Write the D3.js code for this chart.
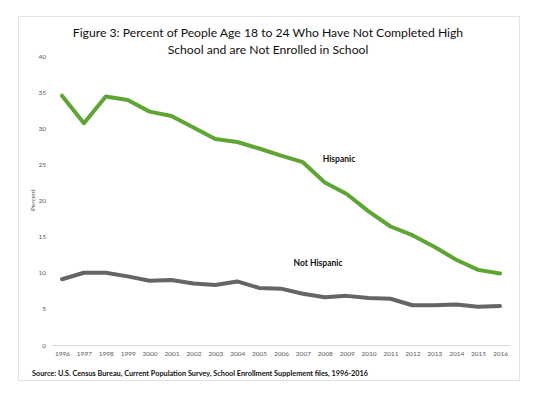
<!DOCTYPE html>
<html>
<head>
<meta charset="utf-8">
<script src="https://cdn.jsdelivr.net/npm/d3@7"></script>
<style>
  body { margin: 0; background: #fff; }
</style>
</head>
<body>
<div id="chart-container"></div>
<script>
const years = [1996, 1997, 1998, 1999, 2000, 2001, 2002, 2003, 2004, 2005, 2006,
    2007, 2008, 2009, 2010, 2011, 2012, 2013, 2014, 2015, 2016];
const hispanic = [34.5, 30.7, 34.4, 33.9, 32.3, 31.7, 30.1, 28.5, 28.1, 27.2, 26.2,
    25.3, 22.5, 20.9, 18.5, 16.4, 15.2, 13.6, 11.8, 10.4, 9.9];
const notHispanic = [9.1, 10.0, 10.0, 9.5, 8.9, 9.0, 8.5, 8.3, 8.8, 7.9, 7.8,
    7.1, 6.6, 6.8, 6.5, 6.4, 5.5, 5.5, 5.6, 5.3, 5.4];
const yTicks = [0, 5, 10, 15, 20, 25, 30, 35, 40];
const titleLines = ["Figure 3: Percent of People Age 18 to 24 Who Have Not Completed High",
    "School and are Not Enrolled in School"];
const sourceText = "Source: U.S. Census Bureau, Current Population Survey, School Enrollment Supplement files, 1996-2016";

const width = 536;
const height = 394;

const svg = d3.select("#chart-container")
    .append("svg")
    .attr("width", width)
    .attr("height", height);

// Outer frame
svg.append("rect")
    .attr("x", 18.5).attr("y", 16.5)
    .attr("width", 501).attr("height", 364)
    .attr("fill", "#fff")
    .attr("stroke", "#e3e3e3");

// Title
svg.append("g").selectAll("text")
    .data(titleLines)
    .enter()
    .append("text")
    .attr("x", 268)
    .attr("y", (d, i) => 37 + i * 17)
    .attr("text-anchor", "middle")
    .style("font-family", "Lato, 'Open Sans', sans-serif")
    .style("font-size", "12.2px")
    .attr("fill", "#111")
    .text((d) => d);

// Scales
const x = d3.scalePoint()
    .domain(years)
    .range([62, 500]);

const y = d3.scaleLinear()
    .domain([0, 40])
    .range([345, 56]);

// y axis labels (no axis line)
const yAxis = svg.append("g")
    .attr("transform", "translate(46,0)")
    .call(d3.axisLeft(y).tickValues(yTicks).tickSize(0).tickPadding(0));
yAxis.select(".domain").remove();
yAxis.selectAll("text")
    .style("font-family", "Lato, 'Open Sans', sans-serif")
    .style("font-size", "6.5px")
    .attr("fill", "#595959");

// x axis
const xAxis = svg.append("g")
    .attr("transform", "translate(0,345)")
    .call(d3.axisBottom(x).tickSize(0).tickPadding(6));
xAxis.select(".domain")
    .attr("d", "M52,0.5H510")
    .attr("stroke", "#d9d9d9");
xAxis.selectAll("text")
    .style("font-family", "Lato, 'Open Sans', sans-serif")
    .style("font-size", "6.5px")
    .attr("fill", "#595959");

// y axis title
svg.append("text")
    .attr("transform", "translate(35,200) rotate(-90)")
    .attr("text-anchor", "middle")
    .style("font-family", "Lato, 'Open Sans', sans-serif")
    .style("font-size", "6.5px")
    .attr("fill", "#595959")
    .text("Percent");

// Lines
const line = d3.line()
    .x((d, i) => x(years[i]))
    .y((d) => y(d));

svg.append("path")
    .datum(notHispanic)
    .attr("fill", "none")
    .attr("stroke", "#686466")
    .attr("stroke-width", 4)
    .attr("stroke-linejoin", "round")
    .attr("stroke-linecap", "round")
    .attr("d", line);

svg.append("path")
    .datum(hispanic)
    .attr("fill", "none")
    .attr("stroke", "#5ea534")
    .attr("stroke-width", 4)
    .attr("stroke-linejoin", "round")
    .attr("stroke-linecap", "round")
    .attr("d", line);

// Series labels
svg.append("text")
    .attr("x", 339).attr("y", 162)
    .attr("text-anchor", "middle")
    .style("font-family", "Lato, 'Open Sans', sans-serif")
    .style("font-size", "8.5px")
    .style("font-weight", "bold")
    .attr("fill", "#111")
    .text("Hispanic");

svg.append("text")
    .attr("x", 318).attr("y", 266)
    .attr("text-anchor", "middle")
    .style("font-family", "Lato, 'Open Sans', sans-serif")
    .style("font-size", "8.5px")
    .style("font-weight", "bold")
    .attr("fill", "#111")
    .text("Not Hispanic");

// Source note
svg.append("text")
    .attr("x", 32).attr("y", 376)
    .style("font-family", "Lato, 'Open Sans', sans-serif")
    .style("font-size", "7.3px")
    .style("font-weight", "bold")
    .attr("fill", "#111")
    .text(sourceText);
</script>
</body>
</html>
